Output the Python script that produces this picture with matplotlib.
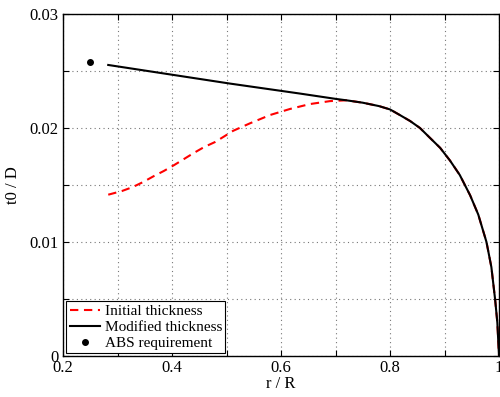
import matplotlib
matplotlib.use("Agg")
import matplotlib.pyplot as plt

# Shared tip (both curves coincide here)
tail_x = [0.72, 0.75, 0.78, 0.80, 0.818, 0.837, 0.855, 0.873, 0.892, 0.91, 0.928,
          0.947, 0.962, 0.977, 0.986, 0.993, 0.997, 1.0]
tail_y = [0.02243, 0.02222, 0.02192, 0.02163, 0.02114, 0.02061, 0.02000, 0.01915,
          0.01826, 0.01715, 0.01588, 0.01410, 0.01240, 0.01000, 0.00780, 0.00491,
          0.00290, 0.0]

# Initial thickness (root part)
init_x = [0.283, 0.308, 0.328, 0.347, 0.367, 0.385, 0.404, 0.422, 0.440, 0.459,
          0.479, 0.497, 0.512, 0.543, 0.580, 0.6165, 0.653, 0.690]
init_y = [0.01415, 0.01447, 0.01482, 0.01526, 0.01579, 0.01623, 0.01675, 0.01728,
          0.01781, 0.01833, 0.01877, 0.01930, 0.01975, 0.02041, 0.02114, 0.02167,
          0.02210, 0.02236]

# Modified thickness (root part, straight)
mod_x = [0.283, 0.506, 0.635, 0.701]
mod_y = [0.02553, 0.02390, 0.02302, 0.02255]

# ABS requirement
abs_x = [0.25]
abs_y = [0.0258]

xticks = [0.2, 0.3, 0.4, 0.5, 0.6, 0.7, 0.8, 0.9, 1.0]
xticklabels = ['0.2', '', '0.4', '', '0.6', '', '0.8', '', '1']
yticks = [0, 0.005, 0.01, 0.015, 0.02, 0.025, 0.03]
yticklabels = ['0', '', '0.01', '', '0.02', '', '0.03']

plt.rcParams['font.family'] = ['Liberation Serif', 'DejaVu Serif']

fig = plt.figure(figsize=(5.0, 3.97), dpi=100)
ax = fig.add_axes([0.126, 0.1033, 0.872, 0.8614])

ax.plot(init_x + tail_x, init_y + tail_y, color='red', linestyle='--',
        dashes=(4, 2.7), linewidth=1.5, label='Initial thickness')
ax.plot(mod_x + tail_x, mod_y + tail_y, color='black', linewidth=1.5,
        label='Modified thickness')
ax.plot(abs_x, abs_y, 'o', color='black', markersize=4, linestyle='none',
        label='ABS requirement')

ax.set_xlim(0.2, 1.0)
ax.set_ylim(0, 0.03)
ax.set_xticks(xticks)
ax.set_xticklabels(xticklabels)
ax.set_yticks(yticks)
ax.set_yticklabels(yticklabels)
ax.tick_params(direction='in', top=True, right=True, length=4, width=0.8,
               labelsize=12, pad=3)
ax.grid(True, linestyle=(0, (1, 3)), color='#777777', linewidth=0.8)
for s in ax.spines.values():
    s.set_linewidth(1.0)

ax.set_xlabel('r / R', fontsize=12, labelpad=0)
ax.set_ylabel('t0 / D', fontsize=12, labelpad=6)

leg = ax.legend(loc='lower left', bbox_to_anchor=(0.008, 0.009), borderaxespad=0,
                fontsize=11, fancybox=False, framealpha=1, edgecolor='black',
                handlelength=2.0, labelspacing=0.15, borderpad=0.2,
                handletextpad=0.3)
leg.get_frame().set_linewidth(0.8)

fig.savefig('out.png', dpi=100)
